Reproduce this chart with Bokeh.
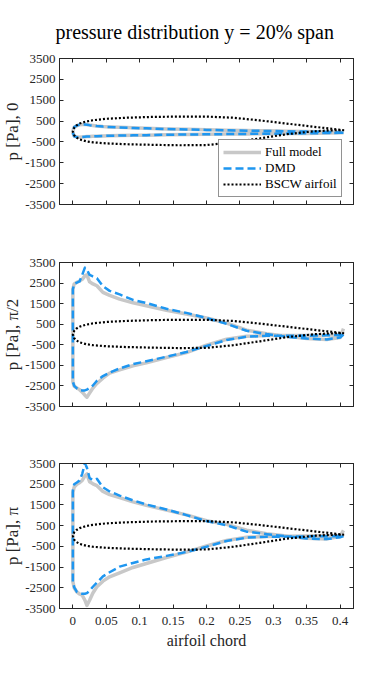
from bokeh.plotting import figure
from bokeh.models import FixedTicker, LinearAxis, Legend, LegendItem
from bokeh.layouts import column
from bokeh.embed import file_html
from bokeh.resources import INLINE

# ---------------- data ----------------
title_text = "pressure distribution y = 20% span"
x_label = "airfoil chord"
y_labels = ["p [Pa], 0", "p [Pa], π/2", "p [Pa], π"]
legend_labels = ["Full model", "DMD", "BSCW airfoil"]

x_ticks = [0, 0.05, 0.1, 0.15, 0.2, 0.25, 0.3, 0.35, 0.4]
x_tick_labels = ["0", "0.05", "0.1", "0.15", "0.2", "0.25", "0.3", "0.35", "0.4"]
y_ticks = [-3500, -2500, -1500, -500, 500, 1500, 2500, 3500]
y_tick_labels = ["-3500", "-2500", "-1500", "-500", "500", "1500", "2500", "3500"]

# chord stations for pressure series
chord = [0, 0.002, 0.006, 0.010, 0.014, 0.018, 0.021, 0.025, 0.030, 0.036, 0.045,
         0.055, 0.07, 0.09, 0.11, 0.14, 0.17, 0.20, 0.23, 0.26, 0.29, 0.32, 0.35,
         0.38, 0.40, 0.405]

# phase 0
full_up_0 = [30, 200, 280, 320, 335, 335, 330, 310, 290, 265, 240, 220, 200, 175, 155,
             125, 105, 80, 60, 45, 30, 15, 0, -20, -40, -50]
full_lo_0 = [-60, -220, -265, -270, -260, -250, -240, -235, -230, -225, -215, -205, -195,
             -185, -175, -160, -145, -135, -125, -115, -110, -100, -90, -75, -65, -55]
dmd_up_0 = [30, 210, 290, 330, 340, 335, 325, 305, 285, 260, 235, 215, 195, 170, 150,
            120, 100, 75, 55, 40, 25, 10, -5, -25, -45, -55]
dmd_lo_0 = [-60, -230, -270, -275, -262, -250, -242, -236, -230, -224, -214, -204, -194,
            -184, -174, -158, -144, -134, -124, -114, -108, -98, -88, -74, -64, -55]

# phase pi/2
full_up_1 = [2200, 2460, 2540, 2600, 2680, 2850, 2900, 2560, 2460, 2370, 2050, 1900, 1720,
             1540, 1400, 1180, 1000, 800, 560, 210, 40, -90, -190, -240, -150, 280]
full_lo_1 = [-2300, -2520, -2600, -2680, -2800, -2950, -3050, -2850, -2600, -2380, -2120,
             -1880, -1720, -1520, -1380, -1120, -880, -520, -230, -90, -50, -50, -50, -30,
             -20, 20]
dmd_up_1 = [2200, 2460, 2520, 2580, 2900, 3250, 3150, 2900, 2820, 2740, 2350, 2120, 1950,
            1680, 1530, 1250, 1050, 800, 520, 180, 20, -110, -200, -240, -150, 0]
dmd_lo_1 = [-2300, -2500, -2620, -2700, -2720, -2720, -2680, -2600, -2480, -2250, -2020,
            -1850, -1650, -1440, -1300, -1080, -850, -560, -270, -110, -60, -60, -60, -40,
            -20, 0]

# phase pi
full_up_2 = [2100, 2360, 2500, 2570, 2680, 2900, 3000, 2620, 2520, 2430, 2150, 2000, 1850,
             1650, 1480, 1250, 1020, 740, 560, 280, 110, 0, -110, -140, -20, 270]
full_lo_2 = [-2200, -2500, -2700, -2800, -2860, -3100, -3350, -3100, -2750, -2450, -2180,
             -1970, -1780, -1520, -1330, -1040, -780, -480, -220, -60, -20, -10, 0, 10, 20,
             30]
dmd_up_2 = [2200, 2500, 2580, 2680, 3000, 3500, 3300, 2800, 2700, 2760, 2350, 2150, 1950,
            1720, 1520, 1280, 1010, 720, 520, 210, 90, -20, -120, -150, -60, 0]
dmd_lo_2 = [-2200, -2480, -2700, -2760, -2790, -2790, -2760, -2650, -2450, -2250, -1950,
            -1750, -1480, -1300, -1130, -960, -770, -520, -240, -80, -40, -30, -20, -10, 0,
            0]

# BSCW airfoil outline (scaled to pressure axis)
foil_x = [0, 0.002, 0.005, 0.01, 0.02, 0.03, 0.05, 0.08, 0.12, 0.16, 0.2, 0.24, 0.28,
          0.32, 0.36, 0.39, 0.406]
foil_up = [0, 180, 280, 380, 480, 540, 610, 660, 700, 715, 715, 660, 530, 380, 230, 120, 60]
foil_lo = [0, -180, -280, -380, -470, -520, -570, -610, -640, -660, -650, -520, -330, -130,
           10, 60, 60]

panels = [
    (full_up_0, full_lo_0, dmd_up_0, dmd_lo_0),
    (full_up_1, full_lo_1, dmd_up_1, dmd_lo_1),
    (full_up_2, full_lo_2, dmd_up_2, dmd_lo_2),
]

# ---------------- style ----------------
FONT = "Liberation Serif"
AX_COLOR = "#262626"
GRAY = "#c8c8c8"
BLUE = "#1e96f0"


def loop(xs, up, lo):
    return list(reversed(xs)) + list(xs), list(reversed(up)) + list(lo)


def base_axis(ax):
    ax.axis_line_color = AX_COLOR
    ax.major_tick_line_color = AX_COLOR
    ax.minor_tick_line_color = AX_COLOR
    ax.major_tick_in = 4
    ax.major_tick_out = 0
    ax.minor_tick_in = 4
    ax.minor_tick_out = 0


def labelled_axis(ax, ticks, labels, standoff):
    base_axis(ax)
    ax.ticker = FixedTicker(ticks=ticks, minor_ticks=[])
    ax.major_label_overrides = {t: l for t, l in zip(ticks, labels)}
    ax.major_label_text_font = FONT
    ax.major_label_text_color = AX_COLOR
    ax.major_label_text_font_size = "13px"
    ax.major_label_standoff = standoff


def tick_only_axis(ax, ticks):
    base_axis(ax)
    ax.ticker = FixedTicker(ticks=[], minor_ticks=ticks)


specs = [
    # height, top, bottom
    (233, 58, 29),
    (201, 29, 28),
    (244, 29, 70),
]

figs = []
for i, ((fu, fl, du, dl), (h, bt, bb)) in enumerate(zip(panels, specs)):
    p = figure(width=385, height=h, x_range=(-0.02, 0.42), y_range=(-3500, 3500),
               output_backend="svg", toolbar_location=None,
               min_border_left=58, min_border_right=32,
               min_border_top=bt, min_border_bottom=bb)
    p.grid.visible = False
    p.outline_line_color = AX_COLOR
    p.outline_line_width = 1

    if i == 2:
        labelled_axis(p.xaxis[0], x_ticks, x_tick_labels, 8)
        p.xaxis[0].axis_label = x_label
        p.xaxis[0].axis_label_text_font = FONT
        p.xaxis[0].axis_label_text_font_style = "normal"
        p.xaxis[0].axis_label_text_font_size = "16px"
        p.xaxis[0].axis_label_text_color = AX_COLOR
        p.xaxis[0].axis_label_standoff = 4
    else:
        tick_only_axis(p.xaxis[0], x_ticks)

    labelled_axis(p.yaxis[0], y_ticks, y_tick_labels, 4)
    p.yaxis[0].axis_label = y_labels[i]
    p.yaxis[0].axis_label_text_font = FONT
    p.yaxis[0].axis_label_text_font_style = "normal"
    p.yaxis[0].axis_label_text_font_size = "17px"
    p.yaxis[0].axis_label_text_color = AX_COLOR
    p.yaxis[0].axis_label_standoff = 0

    ra = LinearAxis()
    tick_only_axis(ra, y_ticks)
    p.add_layout(ra, "right")
    ta = LinearAxis()
    tick_only_axis(ta, x_ticks)
    p.add_layout(ta, "above")

    fx, fy = loop(chord, fu, fl)
    r_full = p.line(fx, fy, line_color=GRAY, line_width=3.5, line_join="round")
    dx, dy = loop(chord, du, dl)
    r_dmd = p.line(dx, dy, line_color=BLUE, line_width=2.5, line_dash="8 4",
                   line_join="round")
    ax_, ay_ = loop(foil_x, foil_up, foil_lo)
    r_foil = p.line(ax_, ay_, line_color="black", line_width=2.2, line_dash="2 2")

    if i == 0:
        p.title.text = title_text
        p.title.text_font = FONT
        p.title.text_font_style = "normal"
        p.title.text_font_size = "20px"
        p.title.text_color = "black"
        p.title.align = "left"
        p.title.offset = -4
        p.title.standoff = 32
        leg = Legend(items=[LegendItem(label=legend_labels[0], renderers=[r_full]),
                            LegendItem(label=legend_labels[1], renderers=[r_dmd]),
                            LegendItem(label=legend_labels[2], renderers=[r_foil])],
                     location=(159, 7))
        leg.margin = 0
        leg.padding = 4
        leg.spacing = 0
        leg.glyph_width = 38
        leg.glyph_height = 16
        leg.label_height = 16
        leg.label_standoff = 4
        leg.label_text_font = FONT
        leg.label_text_font_size = "13px"
        leg.label_text_color = "black"
        leg.border_line_color = AX_COLOR
        leg.border_line_width = 1
        leg.background_fill_alpha = 1
        p.add_layout(leg)
    figs.append(p)

layout = column(*figs, spacing=0)
open("out.html", "w").write(file_html(layout, INLINE))
